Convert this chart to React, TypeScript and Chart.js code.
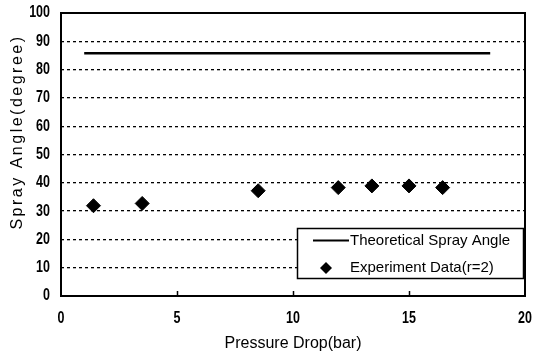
import React, { useEffect, useRef } from "react";
import { Chart, registerables } from "chart.js";

Chart.register(...registerables);

const theoryLabel = "Theoretical Spray Angle";
const expLabel = "Experiment Data(r=2)";
const xTitle = "Pressure Drop(bar)";
const yTitle = "Spray Angle(degree)";

const theoryPressure = [1, 18.5];
const theoryAngle = [85.8, 85.8];

const expPressure = [1.4, 3.5, 8.5, 11.95, 13.4, 15.0, 16.45];
const expAngle = [31.9, 32.7, 37.2, 38.3, 38.9, 38.9, 38.3];

const xTicks = [0, 5, 10, 15, 20];
const yTicks = [0, 10, 20, 30, 40, 50, 60, 70, 80, 90, 100];

const textFont = "'Liberation Sans', Arial, sans-serif";

function drawNarrow(ctx: any, text: string, x: number, y: number, align: string) {
  const sx = 0.78;
  ctx.save();
  ctx.font = "bold 16px " + textFont;
  ctx.textBaseline = "middle";
  ctx.textAlign = align;
  ctx.translate(x, y);
  ctx.scale(sx, 1);
  ctx.fillText(text, 0, 0);
  ctx.restore();
}

const framePlugin = {
  id: "frame",
  afterDatasetsDraw(chart: any) {
    const { ctx, chartArea, scales } = chart;
    const { left, right, top, bottom } = chartArea;
    ctx.save();
    // frame
    ctx.strokeStyle = "#000";
    ctx.lineWidth = 2;
    ctx.setLineDash([]);
    ctx.strokeRect(left, top, right - left, bottom - top);
    // inner x ticks
    ctx.lineWidth = 1.5;
    xTicks.slice(1, -1).forEach((v) => {
      const px = Math.round(scales.x.getPixelForValue(v)) + 0.5;
      ctx.beginPath();
      ctx.moveTo(px, bottom);
      ctx.lineTo(px, bottom - 5);
      ctx.stroke();
    });

    // tick labels
    ctx.fillStyle = "#000";
    yTicks.forEach((v) => {
      drawNarrow(ctx, String(v), left - 11, scales.y.getPixelForValue(v), "right");
    });
    xTicks.forEach((v) => {
      drawNarrow(ctx, String(v), scales.x.getPixelForValue(v), bottom + 23, "center");
    });

    // legend
    const bx = 297, by = 228, bw = 226, bh = 50;
    ctx.fillStyle = "#fff";
    ctx.fillRect(bx, by, bw, bh);
    ctx.strokeStyle = "#000";
    ctx.lineWidth = 1.5;
    ctx.strokeRect(bx + 0.5, by + 0.5, bw, bh);

    const ds0 = chart.data.datasets[0];
    const ds1 = chart.data.datasets[1];
    ctx.lineWidth = 2;
    ctx.beginPath();
    ctx.moveTo(313, 240.5);
    ctx.lineTo(349, 240.5);
    ctx.stroke();
    // diamond
    ctx.fillStyle = "#000";
    ctx.beginPath();
    ctx.moveTo(326, 262);
    ctx.lineTo(332, 268);
    ctx.lineTo(326, 274);
    ctx.lineTo(320, 268);
    ctx.closePath();
    ctx.fill();

    ctx.font = "15px " + textFont;
    ctx.textBaseline = "middle";
    ctx.textAlign = "left";
    ctx.fillText(ds0.label, 350, 241);
    ctx.fillText(ds1.label, 350, 268);

    // y title with letter spacing
    ctx.save();
    ctx.translate(18, 132);
    ctx.rotate(-Math.PI / 2);
    ctx.font = "16px " + textFont;
    (ctx as any).letterSpacing = "2.5px";
    ctx.textAlign = "center";
    ctx.textBaseline = "middle";
    ctx.fillText(yTitle, 0, 0);
    ctx.restore();

    ctx.restore();
  },
};

export default function App() {
  const ref = useRef<HTMLCanvasElement>(null);

  useEffect(() => {
    document.body.style.margin = "0";
    const canvas = ref.current;
    if (!canvas) return;
    const chart = new Chart(canvas, {
      type: "scatter",
      data: {
        datasets: [
          {
            type: "line",
            label: theoryLabel,
            data: theoryPressure.map((x, i) => ({ x, y: theoryAngle[i] })),
            borderColor: "#000",
            backgroundColor: "#000",
            borderWidth: 2.5,
            pointRadius: 0,
            showLine: true,
          } as any,
          {
            type: "scatter",
            label: expLabel,
            data: expPressure.map((x, i) => ({ x, y: expAngle[i] })),
            pointStyle: "rectRot",
            pointRadius: 7,
            backgroundColor: "#000",
            borderColor: "#000",
          },
        ],
      },
      options: {
        animation: false,
        responsive: false,
        layout: { padding: { top: 13, right: 9, left: 0, bottom: 0 } },
        plugins: {
          legend: { display: false },
          tooltip: { enabled: false },
        },
        scales: {
          x: {
            type: "linear",
            min: 0,
            max: 20,
            afterBuildTicks: (s: any) => {
              s.ticks = xTicks.map((v) => ({ value: v }));
            },
            afterFit: (s: any) => {
              s.height = 57;
              s.paddingLeft = 0;
              s.paddingRight = 0;
            },
            grid: { display: false, drawTicks: false },
            border: { display: false },
            ticks: { display: false },
            title: {
              display: true,
              text: xTitle,
              color: "#000",
              padding: { top: 0, bottom: 0 },
              font: { family: textFont, size: 16 },
            },
          },
          y: {
            type: "linear",
            min: 0,
            max: 100,
            afterBuildTicks: (s: any) => {
              s.ticks = yTicks.map((v) => ({ value: v }));
            },
            afterFit: (s: any) => {
              s.width = 61;
              s.paddingTop = 0;
              s.paddingBottom = 0;
            },
            grid: {
              drawTicks: false,
              color: (c: any) =>
                c.tick && (c.tick.value === 0 || c.tick.value === 100) ? "rgba(0,0,0,0)" : "#000",
              lineWidth: 1.3,
            },
            border: { display: false, dash: [3, 3] },
            ticks: { display: false },
          },
        },
      },
      plugins: [framePlugin],
    });
    return () => chart.destroy();
  }, []);

  return (
    <div style={{ width: 534, height: 353 }}>
      <canvas ref={ref} width={534} height={353} style={{ display: "block" }} />
    </div>
  );
}
